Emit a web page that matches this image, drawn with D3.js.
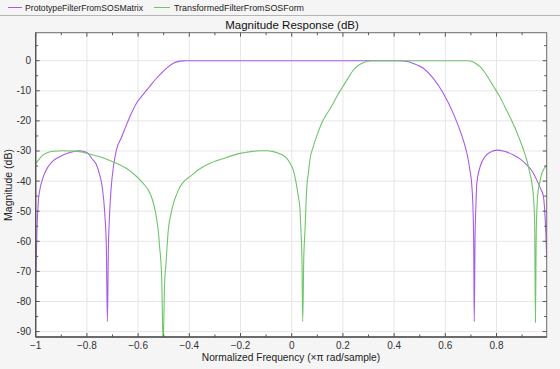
<!DOCTYPE html>
<html><head><meta charset="utf-8">
<script src="https://cdn.jsdelivr.net/npm/d3@7"></script>
<style>
body{margin:0;background:#f5f5f5;}
svg{display:block;font-family:"Liberation Sans",Arial,sans-serif;}
</style></head>
<body><svg id="c" width="560" height="369"></svg>
<script>
const seriesNames = ["PrototypeFilterFromSOSMatrix", "TransformedFilterFromSOSForm"];
const seriesColors = ["#a75ce8", "#6fc56b"];

const protoFreq = [-1.000,-0.995,-0.990,-0.984,-0.970,-0.959,-0.935,-0.906,-0.870,-0.828,-0.800,-0.776,-0.763,-0.750,-0.740,-0.730,-0.724,-0.720,-0.716,-0.712,-0.705,-0.696,-0.685,-0.665,-0.646,-0.627,-0.607,-0.580,-0.555,-0.530,-0.503,-0.485,-0.464,-0.445,-0.425,-0.410,0.420,0.445,0.475,0.514,0.553,0.592,0.631,0.650,0.670,0.685,0.696,0.704,0.709,0.711,0.713,0.716,0.720,0.723,0.736,0.755,0.778,0.800,0.830,0.866,0.893,0.918,0.940,0.957,0.972,0.983,0.988,0.9925,0.996];
const protoDb = [-75,-56,-47,-43,-38.5,-36.3,-33.5,-31.9,-30.6,-29.9,-30.5,-33,-34.5,-38,-42,-51,-62,-86.7,-62,-52,-42,-35,-29.7,-25.5,-21.4,-17.6,-14.2,-11.2,-8.6,-6,-3.6,-2.2,-0.9,-0.3,-0.05,0,0,-0.2,-0.9,-2.5,-5.9,-10.8,-17.5,-21.5,-26.3,-31,-36.3,-42,-52,-62,-86.7,-60,-47,-40.7,-35.2,-31.9,-30.3,-29.7,-30.1,-31.3,-32.7,-34.6,-36.8,-39.6,-42.5,-45,-49.6,-57,-66];

const transFreq = [-1.000,-0.985,-0.971,-0.950,-0.932,-0.893,-0.860,-0.828,-0.790,-0.750,-0.720,-0.685,-0.650,-0.620,-0.581,-0.560,-0.548,-0.538,-0.529,-0.522,-0.516,-0.508,-0.502,-0.497,-0.491,-0.482,-0.472,-0.462,-0.450,-0.436,-0.420,-0.397,-0.360,-0.319,-0.260,-0.202,-0.160,-0.124,-0.095,-0.072,-0.045,-0.020,-0.007,0.006,0.016,0.026,0.032,0.036,0.040,0.043,0.047,0.052,0.059,0.065,0.071,0.084,0.100,0.123,0.140,0.162,0.180,0.200,0.220,0.241,0.260,0.280,0.295,0.310,0.690,0.705,0.720,0.736,0.755,0.773,0.793,0.813,0.832,0.852,0.872,0.891,0.905,0.918,0.928,0.938,0.945,0.949,0.952,0.955,0.959,0.963,0.970,0.977,0.985,0.996];
const transDb = [-34.1,-32.5,-31.3,-30.4,-30.1,-29.9,-30,-30.2,-31,-31.9,-32.8,-34.1,-35.6,-37.4,-40.7,-43,-45.2,-48,-51.8,-56,-61.8,-72,-95,-75,-67.3,-56.2,-51,-47.4,-44.5,-41.9,-40,-38.5,-36,-34.1,-32.3,-30.8,-30.2,-29.9,-29.9,-30.2,-31,-32.4,-34,-36.3,-40,-45.2,-49,-56.2,-66,-86.7,-66,-56.2,-42,-37.4,-33,-28.6,-24.5,-19.7,-17.3,-14.2,-11.3,-8.6,-5.8,-3.1,-1.6,-0.7,-0.2,0,0,-0.3,-1,-2,-4,-6.4,-9.2,-12,-15.2,-18.6,-22.3,-26.3,-29.5,-33,-36.5,-40.7,-46,-54,-87,-58,-47,-43,-40,-37.4,-36,-34.7];

const xTicks = [-1,-0.8,-0.6,-0.4,-0.2,0,0.2,0.4,0.6,0.8];
const xMinor = [-1,-0.9,-0.8,-0.7,-0.6,-0.5,-0.4,-0.3,-0.2,-0.1,0,0.1,0.2,0.3,0.4,0.5,0.6,0.7,0.8,0.9];
const yTicks = [0,-10,-20,-30,-40,-50,-60,-70,-80,-90];
const yMinor = [5,0,-5,-10,-15,-20,-25,-30,-35,-40,-45,-50,-55,-60,-65,-70,-75,-80,-85,-90];

const title = "Magnitude Response (dB)";
const xLabel = "Normalized Frequency (\u00d7\u03c0 rad/sample)";
const yLabel = "Magnitude (dB)";

const L = 35.7, R = 546.7, T = 32.7, B = 337;
const svg = d3.select("#c");
const x = d3.scaleLinear().domain([-1, 0.996]).range([L, R]);
const y = d3.scaleLinear().domain([-91.8, 9.3]).range([B, T]);

// legend
svg.append("line").attr("x1",0).attr("x2",560).attr("y1",15.5).attr("y2",15.5).attr("stroke","#b5b5b5");
const legX = [[8,22,25,118],[154,170,174,130]];
seriesNames.forEach((n,i)=>{
  svg.append("line").attr("x1",legX[i][0]).attr("x2",legX[i][1]).attr("y1",7.5).attr("y2",7.5).attr("stroke",seriesColors[i]).attr("stroke-width",1);
  svg.append("text").attr("x",legX[i][2]).attr("y",11).attr("font-size",9.5).attr("fill","#222")
    .attr("textLength",legX[i][3]).attr("lengthAdjust","spacingAndGlyphs").text(n);
});

// plot bg
svg.append("rect").attr("x",L).attr("y",T).attr("width",R-L).attr("height",B-T).attr("fill","#fff");

// grid
const g = svg.append("g");
g.selectAll(".gx").data(xTicks).enter().append("line")
  .attr("x1",d=>x(d)).attr("x2",d=>x(d)).attr("y1",T).attr("y2",B).attr("stroke","#e6e6e6");
g.selectAll(".gy").data(yTicks).enter().append("line")
  .attr("y1",d=>y(d)).attr("y2",d=>y(d)).attr("x1",L).attr("x2",R).attr("stroke","#e6e6e6");

// clip
svg.append("clipPath").attr("id","clip").append("rect").attr("x",L).attr("y",T).attr("width",R-L).attr("height",B-T);

const line = d3.line().curve(d3.curveMonotoneX).x(d=>x(d[0])).y(d=>y(d[1]));
const series = [d3.zip(protoFreq, protoDb), d3.zip(transFreq, transDb)];
series.forEach((s,i)=>{
  svg.append("path").attr("clip-path","url(#clip)").attr("d",line(s)).attr("fill","none")
    .attr("stroke",seriesColors[i]).attr("stroke-width",1.1);
});

// axes box
const axc = "#6a6a6a";
svg.append("rect").attr("x",L).attr("y",T).attr("width",R-L).attr("height",B-T).attr("fill","none").attr("stroke",axc).attr("stroke-width",1);
svg.append("line").attr("x1",L).attr("x2",L).attr("y1",T).attr("y2",B).attr("stroke","#555").attr("stroke-width",1.3);
svg.append("line").attr("x1",L).attr("x2",R).attr("y1",B).attr("y2",B).attr("stroke","#555").attr("stroke-width",1.3);

// ticks
const tk = svg.append("g").attr("stroke","#555");
xMinor.forEach(v=>{
  const len = xTicks.some(t=>Math.abs(t-v)<1e-9)?4:2.5;
  tk.append("line").attr("x1",x(v)).attr("x2",x(v)).attr("y1",B).attr("y2",B-len);
  tk.append("line").attr("x1",x(v)).attr("x2",x(v)).attr("y1",T).attr("y2",T+len);
});
yMinor.forEach(v=>{
  const len = yTicks.includes(v)?4:2.5;
  tk.append("line").attr("y1",y(v)).attr("y2",y(v)).attr("x1",L).attr("x2",L+len);
  tk.append("line").attr("y1",y(v)).attr("y2",y(v)).attr("x1",R).attr("x2",R-len);
});

// tick labels
svg.selectAll(".xl").data(xTicks).enter().append("text")
  .attr("x",d=>x(d)).attr("y",349).attr("text-anchor","middle").attr("font-size",10).attr("fill","#333")
  .text(d=>d3.format("")(d));
svg.selectAll(".yl").data(yTicks).enter().append("text")
  .attr("x",31).attr("y",d=>y(d)+3.5).attr("text-anchor","end").attr("font-size",10).attr("fill","#333")
  .text(d=>d);

svg.append("text").attr("x",292).attr("y",29).attr("text-anchor","middle").attr("font-size",11.5).attr("fill","#111").text(title);
svg.append("text").attr("x",291).attr("y",361).attr("text-anchor","middle").attr("font-size",10.2).attr("fill","#222").text(xLabel);
svg.append("text").attr("transform","translate(12,185) rotate(-90)").attr("text-anchor","middle").attr("font-size",10.5).attr("fill","#222").text(yLabel);
</script></body></html>
